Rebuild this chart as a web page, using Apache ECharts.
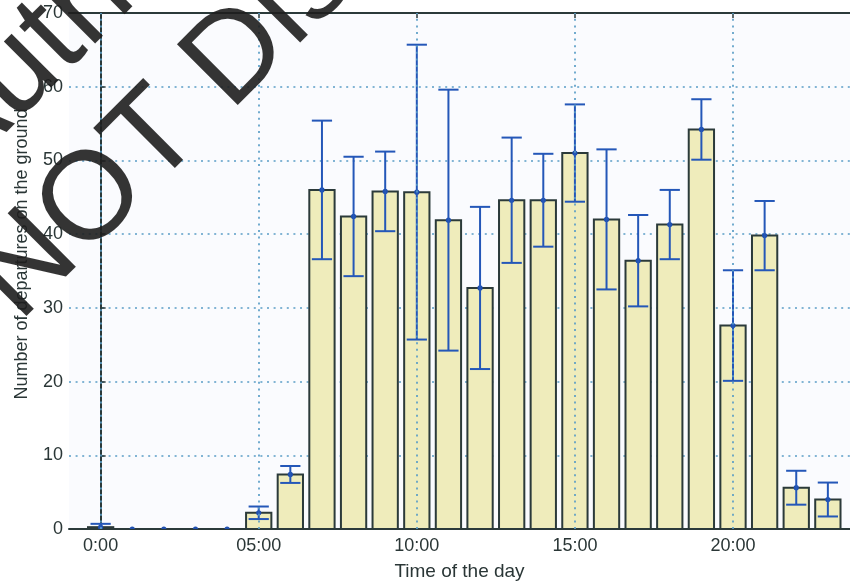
<!DOCTYPE html>
<html>
<head>
<meta charset="utf-8">
<script src="https://cdn.jsdelivr.net/npm/echarts@6/dist/echarts.min.js"></script>
<style>html,body{margin:0;padding:0;background:#fff}#c{width:850px;height:582px}</style>
</head>
<body>
<div id="c"></div>
<script>
// ---- data ----
const hours = [0,1,2,3,4,5,6,7,8,9,10,11,12,13,14,15,16,17,18,19,20,21,22,23];
const meanDepartures = [0.25,0,0,0,0,2.2,7.4,46.0,42.4,45.8,45.7,41.9,32.7,44.6,44.6,51.0,42.0,36.4,41.3,54.2,27.6,39.8,5.6,4.0];
const stdDepartures  = [0.45,0,0,0,0,0.85,1.15,9.4,8.1,5.4,20.0,17.7,11.0,8.5,6.3,6.6,9.5,6.2,4.7,4.1,7.5,4.7,2.3,2.3];
const tickHours = [0,5,10,15,20];
const tickLabels = ['0:00','05:00','10:00','15:00','20:00'];
const xTitle = 'Time of the day';
const yTitle = 'Number of departures on the ground';
const watermarkLines = ['Author Copy','NOT Distribute'];

// ---- chart ----
const FONT = '"Liberation Sans", Arial, sans-serif';
const TXT = '#2a3636';
const FRAME = '#2b3a3a';
const GRID = '#5a9dc6';
const chart = echarts.init(document.getElementById('c'), null, {renderer:'canvas'});
const rows = hours.map((h,i)=>[h, meanDepartures[i], stdDepartures[i]]);
const gridLine = {color: GRID, width: 1.7, type: [2, 4.6]};

const axisCommon = {
  type:'value', min:-1, max:23.7,
  axisLine:{show:true, onZero:false, lineStyle:{color:FRAME, width:2}},
  axisTick:{show:true, inside:true, length:5, customValues: tickHours, lineStyle:{color:FRAME, width:1.5}},
  splitLine:{show:false}
};

const wmStyle = {font:'125px '+FONT, fill:'rgba(30,30,30,0.9)', align:'left', verticalAlign:'middle'};

chart.setOption({
  animation:false,
  backgroundColor:'#ffffff',
  grid:{left:69, top:13, right:0, bottom:53, outerBoundsMode:'none', containLabel:false,
        show:true, backgroundColor:'#fafbfe', borderWidth:0},
  xAxis:[
    Object.assign({}, axisCommon, {
      position:'bottom',
      name: xTitle, nameLocation:'middle', nameGap:33,
      nameTextStyle:{fontFamily:FONT, fontSize:19, color:TXT},
      axisLabel:{show:true, customValues: tickHours, margin:8, fontFamily:FONT, fontSize:18, color:TXT,
        formatter: v => tickLabels[tickHours.indexOf(v)]}
    }),
    Object.assign({}, axisCommon, {position:'top', axisLabel:{show:false}})
  ],
  yAxis:{
    type:'value', min:0, max:70, interval:10,
    axisLine:{show:true, lineStyle:{color:FRAME, width:2}},
    axisTick:{show:true, inside:true, length:5, lineStyle:{color:FRAME, width:1.5}},
    axisLabel:{margin:6, fontFamily:FONT, fontSize:18, color:TXT},
    splitLine:{show:true, lineStyle:gridLine}
  },
  graphic:[
    {type:'text', x:22, y:254, rotation:Math.PI/2, z:50,
     style:{text:yTitle, font:'18px '+FONT, fill:TXT, align:'center', verticalAlign:'middle'}},
    {type:'text', x:-68, y:158, rotation:Math.PI/4, z:100,
     style:Object.assign({text:watermarkLines[0]}, wmStyle)},
    {type:'text', x:-5, y:299, rotation:Math.PI/4, z:100,
     style:Object.assign({text:watermarkLines[1]}, wmStyle)}
  ],
  series:[
    {
      type:'line', data:[], z:1, silent:true,
      markLine:{symbol:'none', silent:true, label:{show:false}, lineStyle:gridLine,
        data: tickHours.map(h=>({xAxis:h}))}
    },
    {
      type:'custom', z:3, data: rows, clip:true,
      encode:{x:0, y:1},
      renderItem:(params, api)=>{
        const x = api.value(0), m = api.value(1);
        const a = api.coord([x-0.4, 0]);
        const b = api.coord([x+0.4, m]);
        return {type:'rect', shape:{x:a[0], y:b[1], width:b[0]-a[0], height:a[1]-b[1]},
          style:{fill:'#efecbb', stroke:FRAME, lineWidth:2}};
      }
    },
    {
      type:'custom', z:4, data: rows, clip:true,
      encode:{x:0, y:1},
      renderItem:(params, api)=>{
        const x = api.value(0), m = api.value(1), s = api.value(2);
        const c = api.coord([x, m]);
        const lo = api.coord([x, m - s]);
        const hi = api.coord([x, m + s]);
        const half = api.size([0.32, 0])[0];
        const st = {stroke:'#2457b8', lineWidth:2};
        const children = [
          {type:'circle', shape:{cx:c[0], cy:c[1], r:2.6}, style:{fill:'#1f4fae'}}
        ];
        if (s > 0) {
          children.push(
            {type:'line', shape:{x1:c[0], y1:lo[1], x2:c[0], y2:hi[1]}, style:st},
            {type:'line', shape:{x1:c[0]-half, y1:lo[1], x2:c[0]+half, y2:lo[1]}, style:st},
            {type:'line', shape:{x1:c[0]-half, y1:hi[1], x2:c[0]+half, y2:hi[1]}, style:st}
          );
        }
        return {type:'group', children};
      }
    }
  ]
});
</script>
</body>
</html>
